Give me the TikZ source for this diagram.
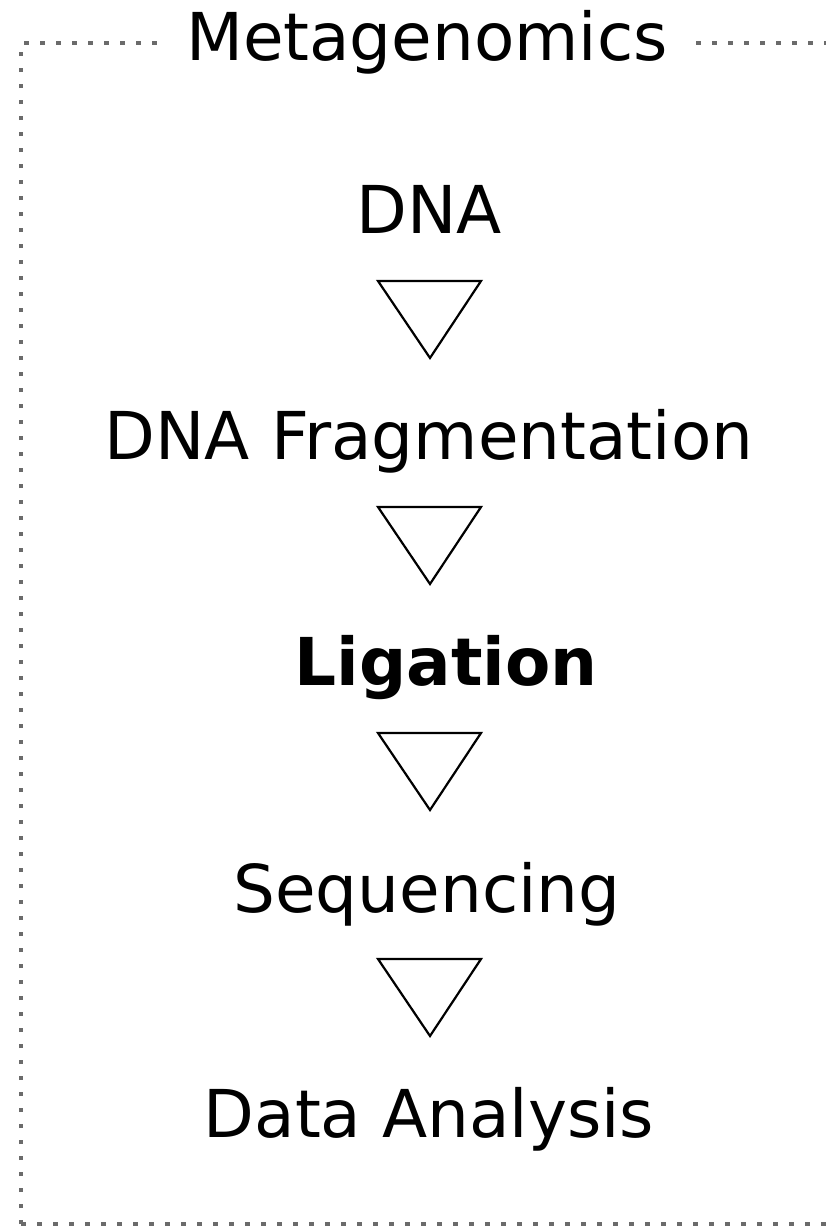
\documentclass[tikz,border=0pt]{standalone}
\usepackage{fontspec}
\setmainfont{DejaVu Sans}
\usepackage{tikz}
\usetikzlibrary{positioning}

\tikzset{
  step label/.style={anchor=base, font=\fontsize{66}{78}\selectfont, inner sep=0pt},
  flow arrow/.style={draw=black, line width=2.2pt, line join=miter, fill=white},
  frame line/.style={draw=black!58, line width=4.5pt, dash pattern=on 4.5pt off 11.5pt}
}

\begin{document}
\begin{tikzpicture}[x=1pt, y=-1pt]
  \useasboundingbox (0, 0) rectangle (826, 1226);

  % Dotted frame, running off the right edge
  \draw[frame line] (21, 1224) -- (21, 43) -- (850, 43);
  \draw[frame line] (21, 1224) -- (850, 1224);

  % Title sits on the top rule
  \node[step label, fill=white, inner xsep=22pt, inner ysep=6pt] (title) at (427, 60) {Metagenomics};

  % Pipeline steps
  \node[step label] (dna) at (429, 233) {DNA};
  \node[step label] (frag) at (429, 459) {DNA Fragmentation};
  \node[step label, font=\fontsize{66}{78}\selectfont\bfseries] (lig) at (446, 685) {Ligation};
  \node[step label] (seq) at (427, 912) {Sequencing};
  \node[step label] (data) at (429, 1137) {Data Analysis};

  % Down triangles between steps
  \draw[flow arrow] (378, 281) -- (481, 281) -- (430, 358) -- cycle;
  \draw[flow arrow] (378, 507) -- (481, 507) -- (430, 584) -- cycle;
  \draw[flow arrow] (378, 733) -- (481, 733) -- (430, 810) -- cycle;
  \draw[flow arrow] (378, 959) -- (481, 959) -- (430, 1036) -- cycle;
\end{tikzpicture}
\end{document}
